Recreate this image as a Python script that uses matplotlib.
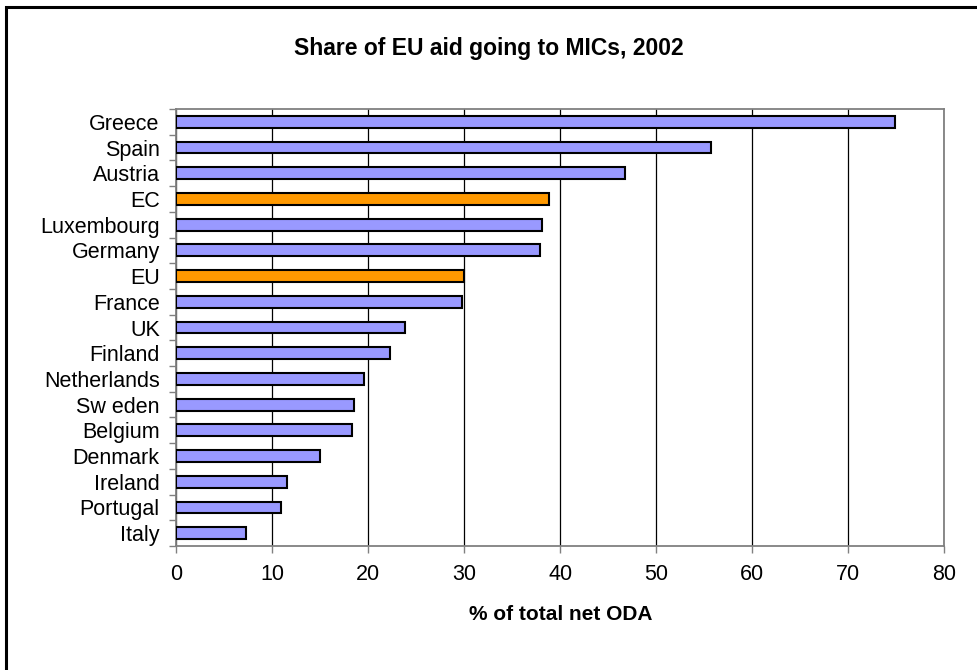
import matplotlib
matplotlib.use("Agg")
import matplotlib.pyplot as plt
from matplotlib.patches import Rectangle
import numpy as np

plt.rcParams['font.family'] = ['Liberation Sans', 'DejaVu Sans']

# 2002 share of aid to middle-income countries, % of total net ODA
countries = ['Greece', 'Spain', 'Austria', 'EC', 'Luxembourg', 'Germany', 'EU',
             'France', 'UK', 'Finland', 'Netherlands', 'Sw eden', 'Belgium',
             'Denmark', 'Ireland', 'Portugal', 'Italy']
shares = [74.9, 55.7, 46.7, 38.8, 38.1, 37.9, 30.0,
          29.8, 23.8, 22.3, 19.6, 18.5, 18.3,
          15.0, 11.5, 10.9, 7.3]
highlight = ['EC', 'EU']
x_ticks = [0, 10, 20, 30, 40, 50, 60, 70, 80]

fig = plt.figure(figsize=(9.78, 6.70), dpi=100)
ax = fig.add_axes([176.3 / 978, 1 - 546 / 670, 768 / 978, 437 / 670])

colors = ['#FF9900' if c in highlight else '#9999FF' for c in countries]
ypos = np.arange(len(countries))
ax.barh(ypos, shares, height=0.46, color=colors, edgecolor='black',
        linewidth=1.5, zorder=3)

ax.set_ylim(len(countries) - 0.5, -0.5)
ax.set_xlim(0, 80)
ax.set_xticks(x_ticks)
ax.set_yticks(ypos)
ax.set_yticklabels(countries)
# category boundary ticks like a spreadsheet chart
ax.set_yticks(np.arange(len(countries) + 1) - 0.5, minor=True)
ax.tick_params(axis='y', which='major', length=0, pad=12, labelsize=15.5)
ax.tick_params(axis='y', which='minor', length=5, width=1, color='#808080')
ax.tick_params(axis='x', length=5, width=1, color='#808080', pad=8, labelsize=15.5)

ax.grid(axis='x', color='black', linewidth=0.9, zorder=0)
for s in ax.spines.values():
    s.set_color('#808080')
    s.set_linewidth(1.3)

ax.set_xlabel('% of total net ODA', fontsize=15, fontweight='bold', labelpad=14)
fig.text(0.5, 1 - 49 / 670, 'Share of EU aid going to MICs, 2002', ha='center',
         va='center', fontsize=16.5, fontweight='bold')

# outer chart border
fig.patches.append(Rectangle((6 / 978, -0.05), 1.1, 1 - 7 / 670 + 0.05,
                             transform=fig.transFigure, fill=False,
                             edgecolor='black', linewidth=2.2))

fig.savefig('out.png', dpi=100)
